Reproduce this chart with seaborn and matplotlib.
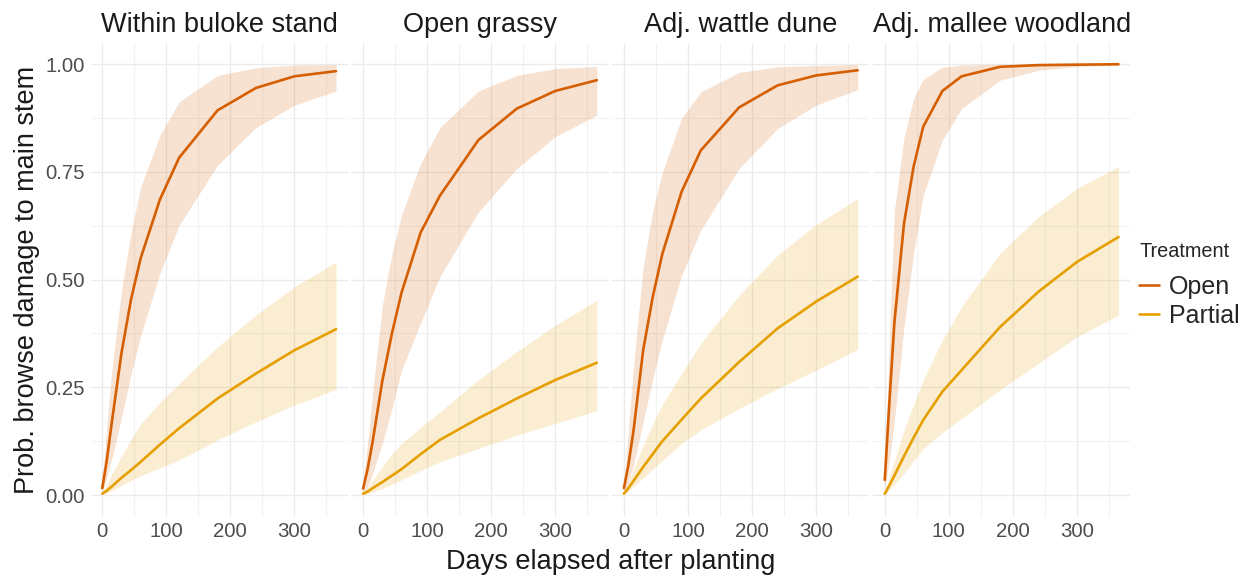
import pandas as pd
import matplotlib.pyplot as plt
import seaborn as sns
from matplotlib.lines import Line2D

# model predictions
days = [0, 7, 15, 30, 45, 60, 90, 120, 180, 240, 300, 365]

sites = ["Within buloke stand", "Open grassy", "Adj. wattle dune", "Adj. mallee woodland"]
treatments = ["Open", "Partial"]

open_mean = [
    [0.016, 0.08, 0.17, 0.33, 0.455, 0.55, 0.686, 0.783, 0.893, 0.945, 0.972, 0.984],
    [0.015, 0.06, 0.125, 0.265, 0.375, 0.47, 0.61, 0.695, 0.824, 0.897, 0.938, 0.963],
    [0.016, 0.07, 0.15, 0.336, 0.46, 0.56, 0.704, 0.800, 0.900, 0.951, 0.974, 0.986],
    [0.035, 0.21, 0.40, 0.63, 0.762, 0.855, 0.938, 0.972, 0.994, 0.998, 0.999, 1.0],
]
open_low = [
    [0.005, 0.04, 0.085, 0.18, 0.28, 0.37, 0.515, 0.626, 0.766, 0.853, 0.905, 0.938],
    [0.005, 0.02, 0.05, 0.12, 0.20, 0.29, 0.40, 0.507, 0.657, 0.758, 0.832, 0.882],
    [0.005, 0.03, 0.07, 0.17, 0.27, 0.36, 0.51, 0.615, 0.758, 0.851, 0.905, 0.941],
    [0.015, 0.08, 0.17, 0.39, 0.56, 0.696, 0.824, 0.897, 0.963, 0.986, 0.995, 0.998],
]
open_high = [
    [0.03, 0.16, 0.29, 0.475, 0.61, 0.715, 0.835, 0.913, 0.974, 0.992, 0.998, 0.999],
    [0.03, 0.12, 0.24, 0.44, 0.56, 0.65, 0.77, 0.853, 0.938, 0.974, 0.99, 0.995],
    [0.03, 0.15, 0.30, 0.53, 0.66, 0.75, 0.874, 0.936, 0.981, 0.994, 0.997, 0.999],
    [0.06, 0.35, 0.66, 0.83, 0.92, 0.965, 0.993, 0.998, 1.0, 1.0, 1.0, 1.0],
]
partial_mean = [
    [0.003, 0.01, 0.02, 0.04, 0.058, 0.077, 0.117, 0.155, 0.224, 0.282, 0.336, 0.385],
    [0.003, 0.008, 0.016, 0.03, 0.045, 0.06, 0.095, 0.128, 0.178, 0.224, 0.267, 0.307],
    [0.003, 0.016, 0.033, 0.065, 0.095, 0.125, 0.175, 0.224, 0.309, 0.387, 0.449, 0.507],
    [0.003, 0.022, 0.045, 0.09, 0.133, 0.174, 0.24, 0.29, 0.39, 0.472, 0.541, 0.599],
]
partial_low = [
    [0.001, 0.005, 0.01, 0.022, 0.034, 0.045, 0.063, 0.081, 0.128, 0.17, 0.209, 0.245],
    [0.001, 0.003, 0.007, 0.015, 0.025, 0.035, 0.057, 0.077, 0.108, 0.139, 0.166, 0.196],
    [0.001, 0.009, 0.02, 0.04, 0.06, 0.08, 0.12, 0.151, 0.201, 0.247, 0.29, 0.338],
    [0.001, 0.012, 0.025, 0.05, 0.08, 0.108, 0.145, 0.178, 0.244, 0.306, 0.367, 0.418],
]
partial_high = [
    [0.005, 0.025, 0.05, 0.09, 0.13, 0.165, 0.215, 0.259, 0.344, 0.418, 0.483, 0.541],
    [0.005, 0.018, 0.035, 0.065, 0.095, 0.12, 0.157, 0.193, 0.267, 0.333, 0.394, 0.452],
    [0.005, 0.03, 0.06, 0.115, 0.165, 0.21, 0.282, 0.352, 0.464, 0.557, 0.628, 0.688],
    [0.005, 0.04, 0.08, 0.15, 0.21, 0.267, 0.36, 0.437, 0.561, 0.646, 0.712, 0.762],
]

colors = {"Open": "#D55E00", "Partial": "#E69F00"}

# long table for the facet grid
rows = []
for i, site in enumerate(sites):
    for trt, mean, lo, hi in [
        ("Open", open_mean[i], open_low[i], open_high[i]),
        ("Partial", partial_mean[i], partial_low[i], partial_high[i]),
    ]:
        for d, m, l, h in zip(days, mean, lo, hi):
            rows.append({"site": site, "Treatment": trt, "days": d,
                         "prob": m, "lo": l, "hi": h})
df = pd.DataFrame(rows)

sns.set_style("white")
plt.rcParams["font.family"] = ["Liberation Sans", "DejaVu Sans"]


def band(data, color, **kws):
    plt.fill_between(data["days"], data["lo"], data["hi"],
                     color=color, alpha=0.18, lw=0)


g = sns.FacetGrid(df, col="site", col_order=sites, hue="Treatment",
                  hue_order=treatments, palette=colors, sharey=True)
g.map_dataframe(band)
g.map_dataframe(sns.lineplot, x="days", y="prob", lw=1.9)

fig = g.figure
fig.set_size_inches(12.53, 5.85)
fig.subplots_adjust(left=0.0723, right=0.902, bottom=0.117, top=0.927, wspace=0.0144)

g.set_titles("{col_name}", size=19.5, color="#1A1A1A", pad=8)
g.set_axis_labels("", "")

for j, ax in enumerate(g.axes.flat):
    ax.set_xlim(-18.25, 383.25)
    ax.set_ylim(-0.05, 1.05)
    ax.set_xticks([0, 100, 200, 300])
    ax.set_xticks([50, 150, 250, 350], minor=True)
    ax.set_yticks([0, 0.25, 0.5, 0.75, 1.0])
    ax.set_yticks([0.125, 0.375, 0.625, 0.875], minor=True)
    ax.set_yticklabels(["0.00", "0.25", "0.50", "0.75", "1.00"])
    ax.grid(True, which="major", color="#EBEBEB", lw=1.0)
    ax.grid(True, which="minor", color="#F2F2F2", lw=0.8)
    ax.set_axisbelow(True)
    ax.tick_params(which="both", length=0, labelsize=14.7,
                   labelcolor="#4D4D4D", pad=4)
    if j > 0:
        ax.tick_params(axis="y", labelleft=False)
    for s in ax.spines.values():
        s.set_visible(False)

fig.text(0.487, 0.04, "Days elapsed after planting", ha="center", va="center",
         fontsize=19.5, color="#1A1A1A")
fig.text(0.0215, 0.522, "Prob. browse damage to main stem", ha="center",
         va="center", rotation=90, fontsize=19.5, color="#1A1A1A")

handles = [Line2D([0], [0], color=colors[t], lw=1.9) for t in treatments]
leg = fig.legend(handles, treatments, title="Treatment", loc="upper left",
                 bbox_to_anchor=(1139 / 1253, 1 - 242 / 585), frameon=False,
                 borderpad=0, borderaxespad=0,
                 handlelength=0.8, handletextpad=0.4, labelspacing=0.2,
                 fontsize=18, title_fontsize=14.3)
leg._legend_box.align = "left"
leg._legend_box.sep = 10

plt.savefig("out.png", dpi=100)
